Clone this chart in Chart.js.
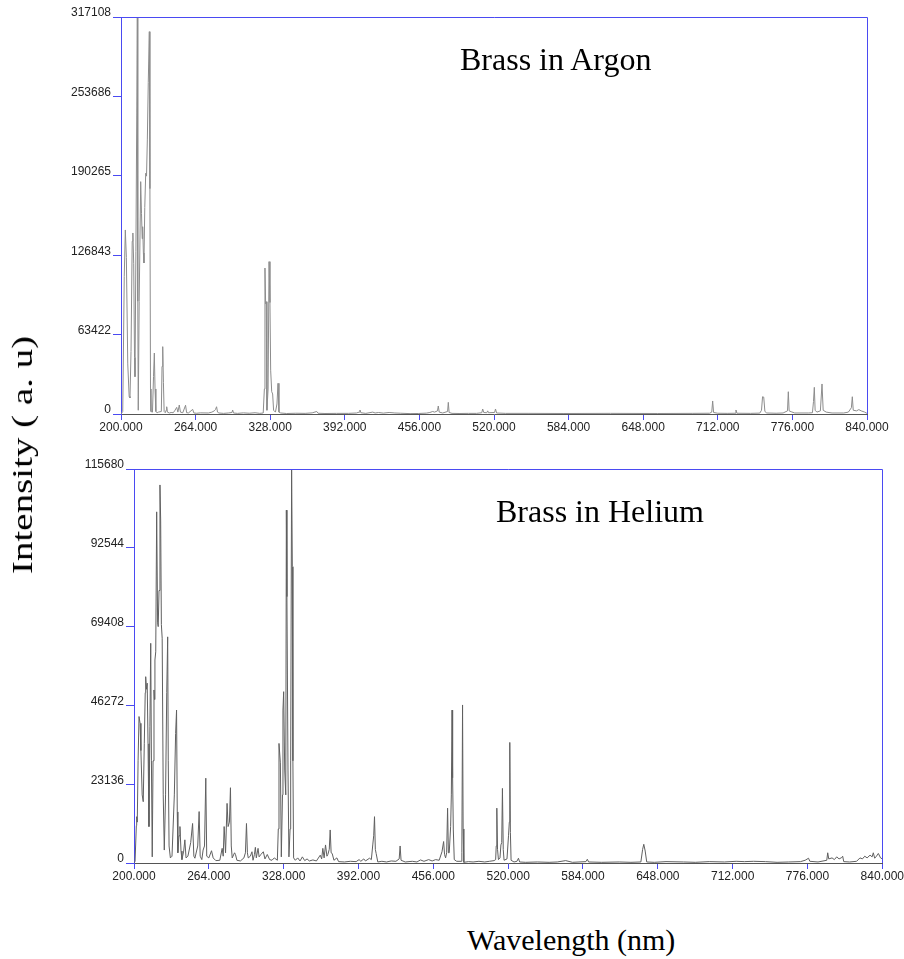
<!DOCTYPE html>
<html>
<head>
<meta charset="utf-8">
<title>Brass LIBS spectra</title>
<script src="https://cdn.jsdelivr.net/npm/chart.js@4/dist/chart.umd.min.js"></script>
<style>
  html, body { margin: 0; padding: 0; background: #fff; }
  #page { position: relative; width: 904px; height: 959px; overflow: hidden; }
  canvas { position: absolute; left: 0; }
  .lbl { position: absolute; font-family: "Liberation Serif", "Times New Roman", serif; color: #000; white-space: nowrap; line-height: 1; }
</style>
</head>
<body>
<div id="page">
  <canvas id="argon" width="904" height="440" style="top:0"></canvas>
  <canvas id="helium" width="904" height="460" style="top:440px"></canvas>
  <div class="lbl" style="left:460px; top:43px; font-size:32px;">Brass in Argon</div>
  <div class="lbl" style="left:496px; top:495px; font-size:32px;">Brass in Helium</div>
  <div class="lbl" style="left:467px; top:925px; font-size:30px;">Wavelength (nm)</div>
  <div class="lbl" id="ytitle" style="left:22px; top:455px; font-size:30px; transform: translate(-50%, -50%) rotate(-90deg) scaleX(1.3);">Intensity ( a. u)</div>
</div>
<script>
// ---- axis ticks ----
const xTicks = [200, 264, 328, 392, 456, 520, 584, 648, 712, 776, 840];
const argonYTicks = [0, 63422, 126843, 190265, 253686, 317108];
const heliumYTicks = [0, 23136, 46272, 69408, 92544, 115680];

// ---- Brass in Argon ----
const argonWavelength = [
  200.0, 201.5, 202.8, 203.7, 204.6, 205.8, 207.0, 207.7, 208.6, 209.6, 210.2, 210.9, 211.6, 212.0,
  212.8, 213.5, 214.0, 214.4, 214.8, 215.6, 216.9, 217.6, 218.2, 218.6, 219.2, 219.7, 220.4, 221.2,
  221.9, 222.6, 223.4, 224.3, 224.8, 225.3, 225.7, 227.0, 227.9, 228.6, 229.2, 229.9, 231.0, 232.0,
  234.6, 235.2, 235.8, 236.4, 237.0, 238.0, 238.7, 239.2, 239.8, 241.5, 243.0, 244.8, 246.0, 247.8,
  248.8, 250.0, 251.0, 253.0, 255.4, 256.3, 258.0, 261.5, 262.5, 265.0, 268.0, 275.0, 278.0, 280.0,
  281.0, 282.0, 282.8, 284.0, 288.0, 292.0, 295.2, 295.8, 296.5, 300.0, 305.0, 310.0, 315.0, 319.0,
  322.0, 323.0, 323.5, 324.1, 324.6, 325.2, 326.2, 327.0, 327.8, 328.4, 329.3, 330.1, 330.9, 332.5,
  333.8, 334.7, 335.5, 337.0, 342.0, 350.0, 358.0, 364.0, 367.9, 369.0, 375.0, 385.0, 395.0, 402.0,
  404.3, 405.0, 405.8, 410.0, 416.0, 418.0, 421.0, 425.0, 430.0, 435.0, 440.0, 448.0, 455.0, 462.0,
  465.0, 467.4, 469.0, 471.5, 472.2, 473.0, 476.0, 480.2, 480.8, 481.5, 484.0, 490.0, 498.0, 505.0,
  509.5, 510.3, 511.2, 513.8, 514.6, 515.3, 520.5, 521.3, 522.2, 530.0, 550.0, 580.0, 620.0, 660.0,
  690.0, 705.0, 706.8, 707.6, 708.4, 712.0, 720.0, 726.8, 727.6, 728.4, 740.0, 748.0, 749.5, 750.4,
  751.4, 752.4, 754.0, 762.0, 768.0, 771.8, 772.5, 773.2, 775.0, 778.0, 790.0, 793.2, 794.1, 794.8,
  795.5, 797.0, 800.0, 801.4, 802.4, 805.0, 810.0, 820.0, 824.0, 826.6, 827.4, 828.2, 831.0, 833.0,
  835.0, 838.0, 840.0
];
const argonIntensity = [
  0, 2000, 110000, 147000, 125000, 40000, 14000, 12800, 50000, 138000, 144600, 120000, 45000, 29800,
  130000, 238800, 317108, 90000, 3000, 90000, 185600, 160000, 140000, 149600, 128600, 120600, 165000, 192300,
  190000, 218900, 265000, 305400, 180000, 20000, 2000, 1500, 30000, 48700, 20000, 2000, 1000, 1500,
  2000, 38000, 53800, 25000, 2000, 1000, 3000, 5800, 1500, 800, 1200, 1000, 2500, 5300,
  1500, 7200, 1500, 1000, 7000, 1000, 900, 3700, 800, 600, 900, 800, 1500, 2500,
  3500, 5800, 1500, 800, 500, 800, 1200, 3200, 800, 500, 900, 600, 1000, 500,
  800, 20000, 116600, 88000, 89700, 3000, 20000, 121700, 89000, 35000, 17800, 16000, 3000, 1500,
  8000, 24500, 1500, 800, 400, 600, 500, 900, 2000, 600, 400, 500, 500, 800,
  1500, 3200, 1000, 500, 1500, 800, 1200, 700, 1200, 800, 600, 300, 400, 700,
  1200, 2000, 1500, 2500, 6400, 1500, 800, 2000, 9300, 1200, 500, 400, 500, 500,
  1000, 4000, 1200, 1000, 2500, 1000, 1200, 4000, 800, 500, 500, 400, 500, 400,
  500, 600, 1500, 10400, 1200, 600, 500, 600, 3200, 600, 500, 700, 3000, 13800,
  13500, 2000, 800, 600, 800, 2500, 17800, 2500, 1800, 800, 800, 1000, 10000, 21300,
  3000, 1500, 2500, 24000, 3000, 1500, 800, 800, 1500, 5000, 13800, 3000, 2500, 3500,
  2500, 1500, 500
];

// ---- Brass in Helium ----
const heliumWavelength = [
  200.0, 200.9, 202.0, 202.3, 202.8, 203.5, 204.3, 205.2, 205.9, 207.0, 207.9, 208.8, 209.6, 210.0,
  210.6, 211.3, 212.0, 212.8, 213.6, 214.3, 214.9, 215.6, 216.3, 217.1, 217.5, 217.9, 218.6, 219.4,
  220.2, 220.7, 221.4, 222.2, 222.8, 223.4, 224.1, 225.0, 225.9, 227.0, 228.0, 228.8, 229.3, 230.0,
  231.1, 232.5, 234.5, 235.6, 236.4, 237.0, 237.5, 238.5, 239.3, 240.2, 241.0, 242.5, 243.5, 244.5,
  246.1, 248.5, 250.1, 251.2, 252.1, 254.5, 255.7, 256.6, 258.0, 259.1, 260.3, 261.4, 262.2, 264.0,
  266.3, 267.7, 270.0, 273.4, 275.4, 276.3, 277.1, 278.3, 279.6, 280.5, 281.6, 282.5, 283.2, 284.0,
  286.0, 286.8, 288.0, 291.0, 294.0, 295.3, 296.2, 297.0, 297.7, 299.5, 300.9, 301.8, 303.0, 303.8,
  304.6, 306.1, 307.0, 308.5, 310.6, 312.0, 314.0, 316.0, 318.0, 320.0, 322.6, 323.4, 324.0, 325.2,
  326.0, 327.0, 327.4, 328.0, 328.9, 329.8, 330.3, 330.8, 331.7, 332.5, 333.5, 334.0, 334.8, 335.4,
  335.9, 336.5, 338.0, 340.0, 342.0, 344.0, 346.0, 348.0, 350.0, 353.0, 356.0, 359.3, 360.5, 361.5,
  362.6, 363.8, 365.0, 365.8, 367.0, 367.8, 368.6, 369.5, 371.0, 373.5, 375.0, 380.0, 385.0, 390.0,
  392.5, 394.0, 396.5, 398.0, 401.4, 403.0, 404.2, 405.0, 405.7, 406.4, 407.1, 408.5, 412.0, 416.0,
  420.0, 424.0, 426.8, 427.6, 428.4, 432.0, 438.0, 442.0, 445.0, 448.0, 452.0, 455.0, 458.0, 461.0,
  463.4, 464.8, 465.6, 466.5, 467.4, 468.2, 468.9, 469.6, 470.8, 471.4, 472.0, 472.5, 473.1, 473.9,
  476.0, 479.9, 480.4, 481.0, 481.5, 482.1, 486.0, 490.0, 495.0, 500.0, 504.0, 508.0, 509.3, 509.8,
  510.3, 510.9, 511.7, 513.0, 513.8, 514.5, 515.1, 515.8, 516.5, 519.0, 520.3, 521.0, 521.4, 521.9,
  522.5, 525.0, 527.5, 528.8, 529.8, 535.0, 545.0, 555.0, 562.0, 569.2, 575.0, 586.5, 587.7, 588.8,
  600.0, 615.0, 625.0, 633.5, 635.0, 636.0, 637.2, 638.5, 645.0, 655.0, 670.0, 680.0, 692.0, 705.0,
  715.0, 722.0, 730.0, 740.0, 750.0, 760.0, 770.0, 774.0, 776.9, 778.0, 785.0, 792.5, 793.3, 794.2,
  797.0, 799.0, 801.0, 803.0, 805.3, 806.1, 807.0, 812.0, 818.0, 820.9, 823.0, 825.0, 827.0, 829.5,
  831.3, 832.3, 833.5, 835.0, 836.6, 838.5, 840.0
];
const heliumIntensity = [
  0, 500, 11000, 13600, 12000, 30000, 43000, 41000, 33000, 20000, 18000, 35000, 50000, 54700,
  51000, 52800, 35000, 10700, 40000, 64500, 30000, 1800, 30000, 50800, 48000, 59600, 62000, 103100,
  70500, 69400, 80000, 111000, 100700, 70000, 66000, 20000, 3800, 20000, 50000, 66400, 30000, 5000,
  1500, 2000, 20000, 38000, 44900, 15000, 3000, 8000, 10700, 3500, 1000, 3500, 6800, 1500,
  2000, 6000, 11600, 2000, 1400, 5000, 15100, 2000, 1000, 3800, 5000, 24900, 2000, 1500,
  3600, 1500, 700, 800, 4300, 2000, 10700, 3000, 17500, 10700, 12000, 22100, 5000, 1500,
  3000, 2500, 800, 600, 1500, 3000, 11600, 3000, 1500, 2000, 3300, 800, 2500, 4600,
  1500, 4300, 1800, 2500, 3300, 1200, 2500, 1000, 800, 1500, 800, 10000, 35100, 29400,
  1800, 20000, 44900, 50300, 27300, 20000, 103600, 78200, 27300, 1800, 10000, 30200, 115680, 87000,
  30000, 1500, 800, 1500, 600, 1800, 700, 1200, 600, 900, 600, 2300, 1200, 4300,
  1500, 5300, 2000, 2500, 4000, 9700, 3000, 2800, 800, 1500, 400, 300, 500, 400,
  1000, 500, 1200, 600, 1400, 1000, 5300, 8000, 13600, 4000, 2800, 300, 500, 300,
  600, 500, 1200, 5000, 800, 300, 500, 300, 900, 500, 1000, 600, 1000, 800,
  3300, 6300, 2500, 1500, 3000, 16100, 3000, 3000, 10700, 20000, 44900, 25000, 9700, 1000,
  500, 500, 3000, 46400, 10000, 200, 400, 300, 500, 300, 500, 700, 1000, 5000,
  16100, 4000, 1000, 1500, 5300, 6000, 21900, 4000, 800, 1200, 8000, 12000, 35400, 9000,
  800, 300, 500, 1400, 300, 200, 300, 200, 300, 700, 200, 400, 1100, 300,
  200, 300, 200, 300, 4000, 5500, 3500, 300, 200, 400, 300, 200, 400, 300,
  500, 400, 500, 400, 200, 300, 400, 800, 1400, 500, 300, 800, 3000, 1200,
  1500, 1000, 1800, 1200, 1600, 2000, 400, 300, 500, 1500, 1200, 2000, 1500, 2300,
  1800, 3000, 1400, 2000, 2800, 1500, 1200
];

// draws the top and right edges of the plot box
function framePlugin(color) {
  return {
    id: 'frame',
    afterDraw(chart) {
      const { ctx, chartArea: a } = chart;
      const top = Math.round(a.top) + 0.5;
      const right = Math.round(a.right) + 0.5;
      ctx.save();
      ctx.strokeStyle = color;
      ctx.lineWidth = 1;
      ctx.beginPath();
      ctx.moveTo(a.left, top);
      ctx.lineTo(right, top);
      ctx.lineTo(right, a.bottom);
      ctx.stroke();
      ctx.restore();
    }
  };
}

function spectrum(id, wl, inten, yTicks, o) {
  const points = wl.map((w, i) => ({ x: w, y: inten[i] }));
  const tickFont = { family: 'Liberation Sans, Arial, sans-serif', size: 12 };
  return new Chart(document.getElementById(id), {
    type: 'line',
    data: {
      datasets: [{
        data: points,
        borderColor: o.lineColor,
        borderWidth: 1,
        pointRadius: 0,
        tension: 0,
        fill: false,
      }],
    },
    options: {
      responsive: false,
      animation: false,
      devicePixelRatio: 1,
      layout: { padding: { top: o.padTop, right: o.padRight, left: 0, bottom: 0 } },
      plugins: {
        legend: { display: false },
        tooltip: { enabled: false },
      },
      scales: {
        x: {
          type: 'linear',
          min: 200,
          max: 840,
          afterBuildTicks: (axis) => { axis.ticks = xTicks.map((v) => ({ value: v })); },
          afterFit: (axis) => { axis.height = o.xHeight; },
          ticks: {
            autoSkip: false,
            maxRotation: 0,
            padding: 0,
            color: '#222',
            font: tickFont,
            callback: (v) => Number(v).toFixed(3),
          },
          grid: { drawOnChartArea: false, drawTicks: true, tickLength: 6, tickColor: o.axisColor, tickWidth: 1 },
          border: { color: '#555', width: 1 },
        },
        y: {
          min: 0,
          max: yTicks[yTicks.length - 1],
          afterBuildTicks: (axis) => { axis.ticks = yTicks.map((v) => ({ value: v })); },
          afterFit: (axis) => { axis.width = o.yWidth; },
          ticks: {
            padding: 2,
            labelOffset: -4,
            color: '#222',
            font: tickFont,
            callback: (v) => String(v),
          },
          grid: { drawOnChartArea: false, drawTicks: true, tickLength: 8, tickColor: o.axisColor, tickWidth: 1 },
          border: { color: o.axisColor, width: 1 },
        },
      },
    },
    plugins: [framePlugin(o.axisColor)],
  });
}

spectrum('argon', argonWavelength, argonIntensity, argonYTicks, {
  lineColor: '#8c8c8c', axisColor: '#4a4af2', padTop: 17, padRight: 37, yWidth: 121, xHeight: 26,
});
spectrum('helium', heliumWavelength, heliumIntensity, heliumYTicks, {
  lineColor: '#606060', axisColor: '#4a4af2', padTop: 29, padRight: 21, yWidth: 134, xHeight: 37,
});
</script>
</body>
</html>
